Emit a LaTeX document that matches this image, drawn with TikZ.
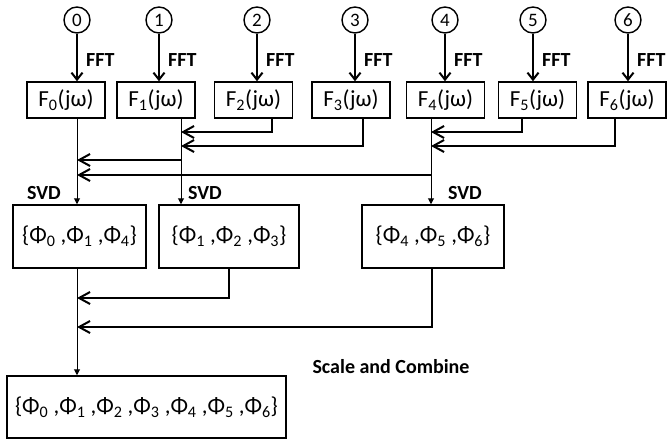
\documentclass[tikz,border=0pt]{standalone}
\usepackage{fontspec}
\setmainfont{Carlito}
\usetikzlibrary{arrows.meta}
\begin{document}
\begin{tikzpicture}[x=1pt,y=-1pt,
  circ/.style={circle,draw,line width=1.4pt,minimum size=26pt,inner sep=0pt,font=\fontsize{19}{19}\selectfont},
  fbox/.style={draw,line width=1.5pt,minimum width=78pt,minimum height=36pt,inner sep=0pt,font=\fontsize{23}{23}\selectfont},
  pbox/.style={draw,line width=1.5pt,minimum height=63pt,inner sep=0pt,font=\fontsize{23}{23}\selectfont},
  lbl/.style={font=\bfseries\fontsize{20}{20}\selectfont,inner sep=0pt},
  fft/.style={line width=2pt,-{Straight Barb[length=7pt,width=11pt,line width=2pt]}},
  merge/.style={line width=1.8pt,-{Straight Barb[length=11pt,width=12pt,line width=2pt]}},
  svd/.style={line width=1pt,-{Triangle[length=6pt,width=6pt]}}
]
\useasboundingbox (0,0) rectangle (669,440);
% circles
\node[circ] (c0) at (77,20) {0};
\node[circ] (c1) at (159,20) {1};
\node[circ] (c2) at (257,20) {2};
\node[circ] (c3) at (355,20) {3};
\node[circ] (c4) at (445,20) {4};
\node[circ] (c5) at (533,20) {5};
\node[circ] (c6) at (628,20) {6};
% F boxes
\node[fbox] (f0) at (66,100) {F\textsubscript{0}(jω)};
\node[fbox] (f1) at (156,100) {F\textsubscript{1}(jω)};
\node[fbox] (f2) at (253.5,100) {F\textsubscript{2}(jω)};
\node[fbox] (f3) at (351,100) {F\textsubscript{3}(jω)};
\node[fbox] (f4) at (445.5,100) {F\textsubscript{4}(jω)};
\node[fbox] (f5) at (537.5,100) {F\textsubscript{5}(jω)};
\node[fbox] (f6) at (627,100) {F\textsubscript{6}(jω)};
% FFT arrows and labels
\foreach \i in {0,...,6}{
  \draw[fft] (c\i.south) -- (c\i.south |- f\i.north);
  \node[lbl,anchor=west] (fft\i) at ([xshift=9pt,yshift=-40pt]c\i.center) {FFT};
}
% phi boxes
\node[pbox,minimum width=133pt] (p0) at (79.5,236.5) {\{Φ\textsubscript{0} ,Φ\textsubscript{1} ,Φ\textsubscript{4}\}};
\node[pbox,minimum width=140pt] (p1) at (229,236.5) {\{Φ\textsubscript{1} ,Φ\textsubscript{2} ,Φ\textsubscript{3}\}};
\node[pbox,minimum width=142pt] (p2) at (433,236.5) {\{Φ\textsubscript{4} ,Φ\textsubscript{5} ,Φ\textsubscript{6}\}};
\node[pbox,minimum width=279pt,minimum height=62pt] (fin) at (146.5,407) {\{Φ\textsubscript{0} ,Φ\textsubscript{1} ,Φ\textsubscript{2} ,Φ\textsubscript{3} ,Φ\textsubscript{4} ,Φ\textsubscript{5} ,Φ\textsubscript{6}\}};
% junction coordinates
\coordinate (d0) at (77,118);
\coordinate (d1) at (181,118);
\coordinate (d2) at (272,118);
\coordinate (d3) at (363,118);
\coordinate (d4) at (431,118);
\coordinate (d5) at (522,118);
\coordinate (d6) at (615,118);
\coordinate (j1a) at (181,132);
\coordinate (j1b) at (181,146);
\coordinate (j0a) at (77,160);
\coordinate (j0b) at (77,175);
\coordinate (j4a) at (431,132);
\coordinate (j4b) at (431,146);
\coordinate (q1) at (229,268);
\coordinate (q2) at (432,268);
\coordinate (k0a) at (77,298);
\coordinate (k0b) at (77,327);
% SVD vertical arrows
\draw[svd] (d0) -- (d0 |- p0.north);
\draw[svd] (d1) -- (d1 |- p1.north);
\draw[svd] (d4) -- (d4 |- p2.north);
% merges into column 1
\draw[merge] (d2) |- (j1a);
\draw[merge] (d3) |- (j1b);
% merges into column 4
\draw[merge] (d5) |- (j4a);
\draw[merge] (d6) |- (j4b);
% merges into column 0
\draw[merge] (j1a |- j0a) -- (j0a);
\draw[merge] (j4a |- j0b) -- (j0b);
% SVD labels
\node[lbl] (s0) at (44,193) {SVD};
\node[lbl] (s1) at (205,193) {SVD};
\node[lbl] (s4) at (465,193) {SVD};
% lower stage
\draw[svd] (p0.south -| d0) -- (fin.north -| d0);
\draw[merge] (q1) |- (k0a);
\draw[merge] (q2) |- (k0b);
\node[lbl] (sc) at (391,367) {Scale and Combine};
\end{tikzpicture}
\end{document}
